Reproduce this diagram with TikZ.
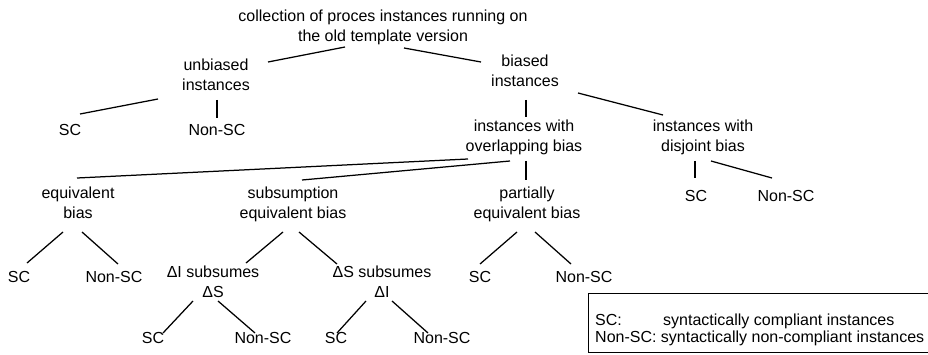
\documentclass[tikz,border=0pt]{standalone}
\usepackage{fontspec}
\setmainfont{Liberation Sans}
\usetikzlibrary{calc}
\begin{document}
\begin{tikzpicture}[x=1pt,y=-1pt,
  lbl/.style={font=\fontsize{16}{20}\selectfont, align=center, inner sep=0pt,
    anchor=north, execute at begin node=\strut, execute at end node=\strut},
  link/.style={line width=1.25pt},
  legendbox/.style={draw, line width=1pt, anchor=north west, inner sep=0pt,
    minimum width=352pt, minimum height=59pt},
  legendtext/.style={font=\fontsize{16}{17}\selectfont, align=left, inner sep=0pt,
    anchor=north west, execute at begin node=\strut}]
\useasboundingbox (0,0) rectangle (928,354);

% classification tree
\node[lbl] (root) at (383,10) {collection of proces instances running on\\the old template version};
\node[lbl] (unb)  at (216,59) {unbiased\\instances};
\node[lbl] (bia)  at (525,55) {biased\\instances};
\node[lbl] (usc)  at (70,121)  {SC};
\node[lbl] (unsc) at (217,121) {Non-SC};
\node[lbl] (ovl)  at (524,120) {instances with\\overlapping bias};
\node[lbl] (dis)  at (703,120) {instances with\\disjoint bias};
\node[lbl] (dsc)  at (696,187) {SC};
\node[lbl] (dnsc) at (786,187) {Non-SC};
\node[lbl] (eqv)  at (78,187)  {equivalent\\bias};
\node[lbl] (sub)  at (293,187) {subsumption\\equivalent bias};
\node[lbl] (par)  at (527,187) {partially\\equivalent bias};
\node[lbl] (esc)  at (19,268)  {SC};
\node[lbl] (ensc) at (114,268) {Non-SC};
\node[lbl] (sis)  at (213,266) {ΔI subsumes\\ΔS};
\node[lbl] (ssi)  at (382,266) {ΔS subsumes\\ΔI};
\node[lbl] (psc)  at (480,268) {SC};
\node[lbl] (pnsc) at (584,268) {Non-SC};
\node[lbl] (bsc1)  at (153,329) {SC};
\node[lbl] (bnsc1) at (263,329) {Non-SC};
\node[lbl] (bsc2)  at (336,329) {SC};
\node[lbl] (bnsc2) at (442,329) {Non-SC};

% connectors
\draw[link] ($(root.south)+(-38,-1)$) -- ($(unb.north)+(52,3)$);
\draw[link] ($(root.south)+(21,0)$) -- ($(bia.north)+(-44,7)$);
\draw[link] ($(unb.south)+(-58,2)$) -- ($(usc.north)+(10,-7)$);
\draw[link] ($(unb.south)+(1,3)$) -- ($(unsc.north)+(0,-3)$);
\draw[link] ($(bia.south)+(1,7)$) -- ($(ovl.north)+(2,-3)$);
\draw[link] ($(bia.south)+(53,0)$) -- ($(dis.north)+(-40,-5)$);
\draw[link] ($(ovl.south)+(-56,1)$) -- ($(eqv.north)+(-1,-9)$);
\draw[link] ($(ovl.south)+(-14,3)$) -- ($(sub.north)+(9,-7)$);
\draw[link] ($(ovl.south)+(2,3)$) -- ($(par.north)+(-1,-7)$);
\draw[link] ($(dis.south)+(-8,3)$) -- ($(dsc.north)+(-1,-9)$);
\draw[link] ($(dis.south)+(8,3)$) -- ($(dnsc.north)+(-14,-9)$);
\draw[link] ($(eqv.south)+(-15,7)$) -- ($(esc.north)+(8,-5)$);
\draw[link] ($(eqv.south)+(4,7)$) -- ($(ensc.north)+(4,-4)$);
\draw[link] ($(sub.south)+(-10,7)$) -- ($(sis.north)+(33,-3)$);
\draw[link] ($(sub.south)+(6,7)$) -- ($(ssi.north)+(-45,-2)$);
\draw[link] ($(sis.south)+(-20,-3)$) -- ($(bsc1.north)+(10,4)$);
\draw[link] ($(sis.south)+(5,-3)$) -- ($(bnsc1.north)+(-8,4)$);
\draw[link] ($(ssi.south)+(-16,-3)$) -- ($(bsc2.north)+(1,4)$);
\draw[link] ($(ssi.south)+(10,-3)$) -- ($(bnsc2.north)+(-14,4)$);
\draw[link] ($(par.south)+(-10,7)$) -- ($(psc.north)+(0,-4)$);
\draw[link] ($(par.south)+(8,7)$) -- ($(pnsc.north)+(-13,-4)$);

% legend
\node[legendbox] (legend) at (588,293) {};
\node[legendtext] (legtxt) at (595,314.1)
  {\makebox[68pt][l]{SC:}syntactically compliant instances\\Non-SC: syntactically non-compliant instances};
\end{tikzpicture}
\end{document}
